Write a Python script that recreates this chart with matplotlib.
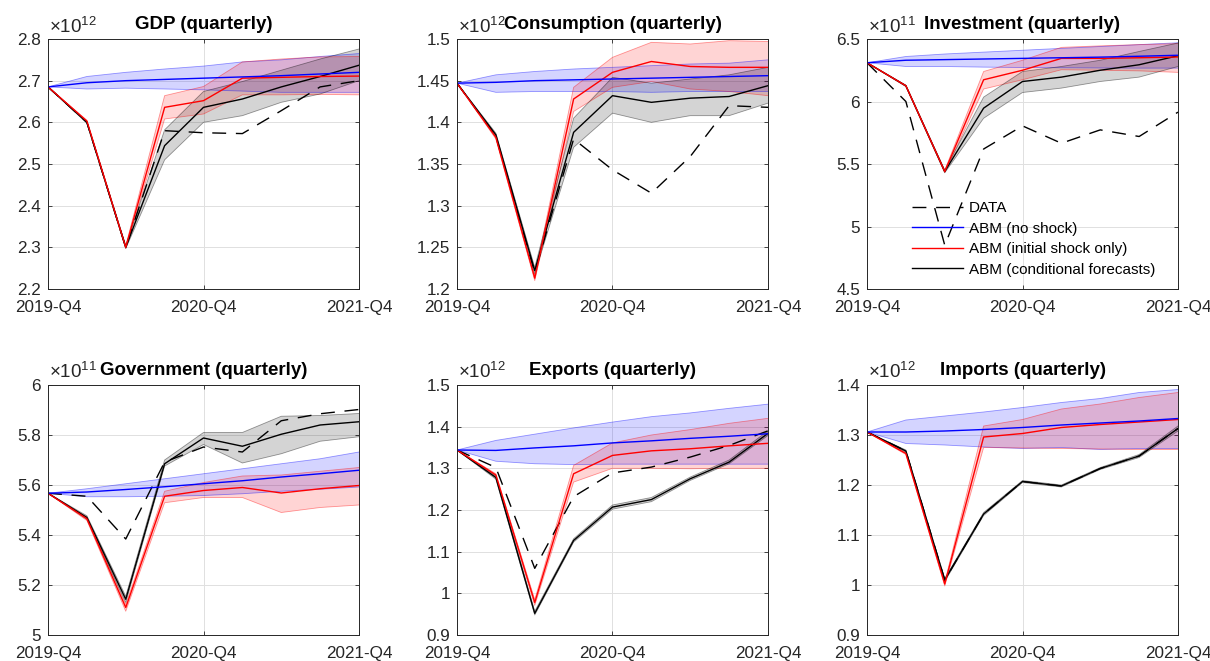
import matplotlib.pyplot as plt
import numpy as np

plt.rcParams['font.family'] = ['Liberation Sans', 'DejaVu Sans']
plt.rcParams['mathtext.fontset'] = 'custom'
plt.rcParams['mathtext.rm'] = 'Liberation Sans'
plt.rcParams['mathtext.it'] = 'Liberation Sans:italic'
plt.rcParams['lines.scale_dashes'] = False

quarters = ['2019-Q4', '2020-Q1', '2020-Q2', '2020-Q3', '2020-Q4',
            '2021-Q1', '2021-Q2', '2021-Q3', '2021-Q4']
shown_ticks = [0, 4, 8]

# GDP, in 1e12
gdp_data = [2.685, 2.600, 2.300, 2.580, 2.575, 2.573, 2.628, 2.685, 2.700]
gdp_base = [2.685, 2.695, 2.700, 2.703, 2.706, 2.709, 2.712, 2.716, 2.720]
gdp_base_hi = [2.685, 2.710, 2.720, 2.728, 2.735, 2.745, 2.750, 2.758, 2.765]
gdp_base_lo = [2.685, 2.680, 2.682, 2.680, 2.678, 2.675, 2.672, 2.672, 2.672]
gdp_shock = [2.685, 2.603, 2.300, 2.636, 2.652, 2.706, 2.708, 2.710, 2.711]
gdp_shock_hi = [2.685, 2.605, 2.304, 2.664, 2.686, 2.745, 2.752, 2.757, 2.758]
gdp_shock_lo = [2.685, 2.601, 2.297, 2.608, 2.620, 2.666, 2.666, 2.667, 2.666]
gdp_cond = [2.685, 2.600, 2.300, 2.544, 2.636, 2.656, 2.685, 2.710, 2.737]
gdp_cond_hi = [2.685, 2.602, 2.304, 2.582, 2.674, 2.698, 2.725, 2.752, 2.776]
gdp_cond_lo = [2.685, 2.598, 2.297, 2.510, 2.600, 2.616, 2.648, 2.668, 2.700]

# Consumption, in 1e12
cons_data = [1.447, 1.383, 1.220, 1.380, 1.343, 1.315, 1.359, 1.420, 1.418]
cons_base = [1.447, 1.448, 1.450, 1.451, 1.452, 1.453, 1.454, 1.455, 1.456]
cons_base_hi = [1.447, 1.457, 1.461, 1.464, 1.466, 1.468, 1.470, 1.471, 1.475]
cons_base_lo = [1.447, 1.436, 1.437, 1.437, 1.437, 1.436, 1.437, 1.437, 1.437]
cons_shock = [1.447, 1.382, 1.213, 1.428, 1.460, 1.473, 1.467, 1.466, 1.466]
cons_shock_hi = [1.447, 1.384, 1.216, 1.442, 1.478, 1.496, 1.494, 1.498, 1.497]
cons_shock_lo = [1.447, 1.380, 1.210, 1.413, 1.442, 1.449, 1.440, 1.437, 1.432]
cons_cond = [1.447, 1.385, 1.222, 1.388, 1.432, 1.424, 1.429, 1.431, 1.444]
cons_cond_hi = [1.447, 1.387, 1.226, 1.405, 1.454, 1.447, 1.452, 1.457, 1.466]
cons_cond_lo = [1.447, 1.383, 1.218, 1.370, 1.411, 1.400, 1.408, 1.408, 1.423]

# Investment, in 1e11
inv_data = [6.310, 6.000, 4.850, 5.620, 5.805, 5.666, 5.773, 5.720, 5.915]
inv_base = [6.310, 6.330, 6.335, 6.340, 6.345, 6.350, 6.355, 6.362, 6.370]
inv_base_hi = [6.310, 6.360, 6.380, 6.395, 6.410, 6.425, 6.440, 6.455, 6.470]
inv_base_lo = [6.310, 6.280, 6.280, 6.275, 6.272, 6.270, 6.268, 6.267, 6.267]
inv_shock = [6.310, 6.126, 5.440, 6.174, 6.250, 6.345, 6.345, 6.350, 6.356]
inv_shock_hi = [6.310, 6.130, 5.450, 6.240, 6.330, 6.433, 6.445, 6.455, 6.463]
inv_shock_lo = [6.310, 6.120, 5.430, 6.100, 6.174, 6.254, 6.250, 6.245, 6.233]
inv_cond = [6.310, 6.126, 5.440, 5.947, 6.160, 6.195, 6.250, 6.294, 6.366]
inv_cond_hi = [6.310, 6.130, 5.450, 6.035, 6.240, 6.280, 6.330, 6.400, 6.468]
inv_cond_lo = [6.310, 6.120, 5.430, 5.866, 6.072, 6.107, 6.160, 6.195, 6.280]

# Government, in 1e11
gov_data = [5.567, 5.555, 5.384, 5.692, 5.752, 5.732, 5.857, 5.885, 5.902]
gov_base = [5.567, 5.572, 5.582, 5.593, 5.605, 5.617, 5.632, 5.645, 5.659]
gov_base_hi = [5.567, 5.585, 5.605, 5.625, 5.645, 5.665, 5.685, 5.705, 5.732]
gov_base_lo = [5.567, 5.553, 5.553, 5.555, 5.558, 5.565, 5.575, 5.583, 5.592]
gov_shock = [5.567, 5.465, 5.110, 5.555, 5.578, 5.590, 5.568, 5.585, 5.598]
gov_shock_hi = [5.567, 5.472, 5.122, 5.575, 5.610, 5.636, 5.640, 5.655, 5.670]
gov_shock_lo = [5.567, 5.458, 5.095, 5.529, 5.550, 5.550, 5.490, 5.510, 5.520]
gov_cond = [5.567, 5.470, 5.143, 5.685, 5.788, 5.755, 5.803, 5.840, 5.853]
gov_cond_hi = [5.567, 5.477, 5.155, 5.700, 5.810, 5.810, 5.875, 5.878, 5.886]
gov_cond_lo = [5.567, 5.463, 5.130, 5.676, 5.762, 5.688, 5.725, 5.775, 5.793]

# Exports, in 1e12
exp_data = [1.344, 1.302, 1.060, 1.232, 1.289, 1.303, 1.327, 1.355, 1.390]
exp_base = [1.344, 1.343, 1.349, 1.354, 1.361, 1.366, 1.372, 1.377, 1.383]
exp_base_hi = [1.344, 1.367, 1.382, 1.397, 1.411, 1.424, 1.433, 1.444, 1.454]
exp_base_lo = [1.344, 1.317, 1.311, 1.309, 1.310, 1.310, 1.310, 1.310, 1.310]
exp_shock = [1.344, 1.284, 0.978, 1.287, 1.331, 1.342, 1.347, 1.354, 1.360]
exp_shock_hi = [1.344, 1.287, 0.985, 1.307, 1.361, 1.380, 1.393, 1.408, 1.420]
exp_shock_lo = [1.344, 1.281, 0.971, 1.267, 1.300, 1.300, 1.299, 1.300, 1.300]
exp_cond = [1.344, 1.278, 0.952, 1.127, 1.207, 1.225, 1.275, 1.315, 1.384]
exp_cond_hi = [1.344, 1.282, 0.957, 1.131, 1.212, 1.230, 1.279, 1.320, 1.390]
exp_cond_lo = [1.344, 1.274, 0.948, 1.123, 1.202, 1.220, 1.271, 1.311, 1.379]

# Imports, in 1e12
imp_data = [1.306, 1.268, 1.010, 1.142, 1.207, 1.198, 1.233, 1.258, 1.313]
imp_base = [1.306, 1.306, 1.308, 1.311, 1.315, 1.320, 1.324, 1.328, 1.333]
imp_base_hi = [1.306, 1.330, 1.338, 1.346, 1.355, 1.365, 1.373, 1.385, 1.391]
imp_base_lo = [1.306, 1.283, 1.280, 1.276, 1.273, 1.275, 1.271, 1.273, 1.273]
imp_shock = [1.306, 1.263, 1.002, 1.296, 1.303, 1.315, 1.321, 1.326, 1.331]
imp_shock_hi = [1.306, 1.265, 1.006, 1.318, 1.331, 1.352, 1.362, 1.375, 1.385]
imp_shock_lo = [1.306, 1.261, 0.998, 1.275, 1.274, 1.273, 1.272, 1.271, 1.271]
imp_cond = [1.306, 1.268, 1.010, 1.142, 1.207, 1.198, 1.233, 1.258, 1.313]
imp_cond_hi = [1.306, 1.270, 1.013, 1.145, 1.209, 1.200, 1.235, 1.261, 1.318]
imp_cond_lo = [1.306, 1.266, 1.007, 1.139, 1.205, 1.196, 1.231, 1.255, 1.308]

panels = [
    ('GDP (quarterly)', 12, 2.2, 2.8, 0.1,
     gdp_data, (gdp_base, gdp_base_lo, gdp_base_hi),
     (gdp_shock, gdp_shock_lo, gdp_shock_hi), (gdp_cond, gdp_cond_lo, gdp_cond_hi)),
    ('Consumption (quarterly)', 12, 1.2, 1.5, 0.05,
     cons_data, (cons_base, cons_base_lo, cons_base_hi),
     (cons_shock, cons_shock_lo, cons_shock_hi), (cons_cond, cons_cond_lo, cons_cond_hi)),
    ('Investment (quarterly)', 11, 4.5, 6.5, 0.5,
     inv_data, (inv_base, inv_base_lo, inv_base_hi),
     (inv_shock, inv_shock_lo, inv_shock_hi), (inv_cond, inv_cond_lo, inv_cond_hi)),
    ('Government (quarterly)', 11, 5.0, 6.0, 0.2,
     gov_data, (gov_base, gov_base_lo, gov_base_hi),
     (gov_shock, gov_shock_lo, gov_shock_hi), (gov_cond, gov_cond_lo, gov_cond_hi)),
    ('Exports (quarterly)', 12, 0.9, 1.5, 0.1,
     exp_data, (exp_base, exp_base_lo, exp_base_hi),
     (exp_shock, exp_shock_lo, exp_shock_hi), (exp_cond, exp_cond_lo, exp_cond_hi)),
    ('Imports (quarterly)', 12, 0.9, 1.4, 0.1,
     imp_data, (imp_base, imp_base_lo, imp_base_hi),
     (imp_shock, imp_shock_lo, imp_shock_hi), (imp_cond, imp_cond_lo, imp_cond_hi)),
]

W, H = 1210, 661
fig = plt.figure(figsize=(W / 100, H / 100), dpi=100)
lefts = [48, 457, 867]
tops = [39, 385]
ax_w, ax_h = 311, 250
ink = '#262626'
x = np.arange(len(quarters))


def band(ax, series, color):
    mid, lo, hi = series
    ax.fill_between(x, lo, hi, facecolor=color, alpha=0.17, lw=0)
    ax.plot(x, lo, color=color, alpha=0.4, lw=0.6)
    ax.plot(x, hi, color=color, alpha=0.4, lw=0.6)


for i, (title, expo, y0, y1, step, data, base, shock, cond) in enumerate(panels):
    left = lefts[i % 3]
    top = tops[i // 3]
    ax = fig.add_axes([left / W, 1 - (top + ax_h) / H, ax_w / W, ax_h / H])

    band(ax, base, 'blue')
    band(ax, shock, 'red')
    band(ax, cond, 'black')
    h_data, = ax.plot(x, data, color='black', lw=1.0, dashes=(10, 7), label='DATA')
    h_cond, = ax.plot(x, cond[0], color='black', lw=1.0, label='ABM (conditional forecasts)')
    h_shock, = ax.plot(x, shock[0], color='red', lw=1.0, label='ABM (initial shock only)')
    h_base, = ax.plot(x, base[0], color='blue', lw=1.0, label='ABM (no shock)')

    ax.set_xlim(0, len(quarters) - 1)
    ax.set_ylim(y0, y1)
    ax.set_xticks(shown_ticks)
    ax.set_xticklabels([quarters[k] for k in shown_ticks])
    ax.set_yticks(np.round(np.arange(y0, y1 + step / 2, step), 3))
    ax.yaxis.set_major_formatter(plt.FuncFormatter(lambda v, p: '%g' % round(v, 3)))
    ax.grid(True, color='#e0e0e0', lw=0.7)
    ax.set_axisbelow(True)
    ax.tick_params(direction='in', length=3, width=0.6, colors=ink, labelsize=12.3,
                   top=True, right=True)
    ax.tick_params(axis='x', pad=8)
    ax.tick_params(axis='y', pad=5)
    for s in ax.spines.values():
        s.set_color(ink)
        s.set_linewidth(0.7)
    ax.set_title(title, fontsize=13.5, fontweight='bold', pad=7)
    ax.text(0.003, 1.01, r'$\times10^{%d}$' % expo, transform=ax.transAxes,
            ha='left', va='bottom', fontsize=13.5, color=ink)

    if i == 2:
        ax.legend([h_data, h_base, h_shock, h_cond],
                  ['DATA', 'ABM (no shock)', 'ABM (initial shock only)',
                   'ABM (conditional forecasts)'],
                  loc='lower left', bbox_to_anchor=(0.145, 0.05), frameon=False,
                  fontsize=11, handlelength=3.3, handletextpad=0.4,
                  labelspacing=0.42, borderpad=0, borderaxespad=0)

fig.savefig('out.png', dpi=100)
